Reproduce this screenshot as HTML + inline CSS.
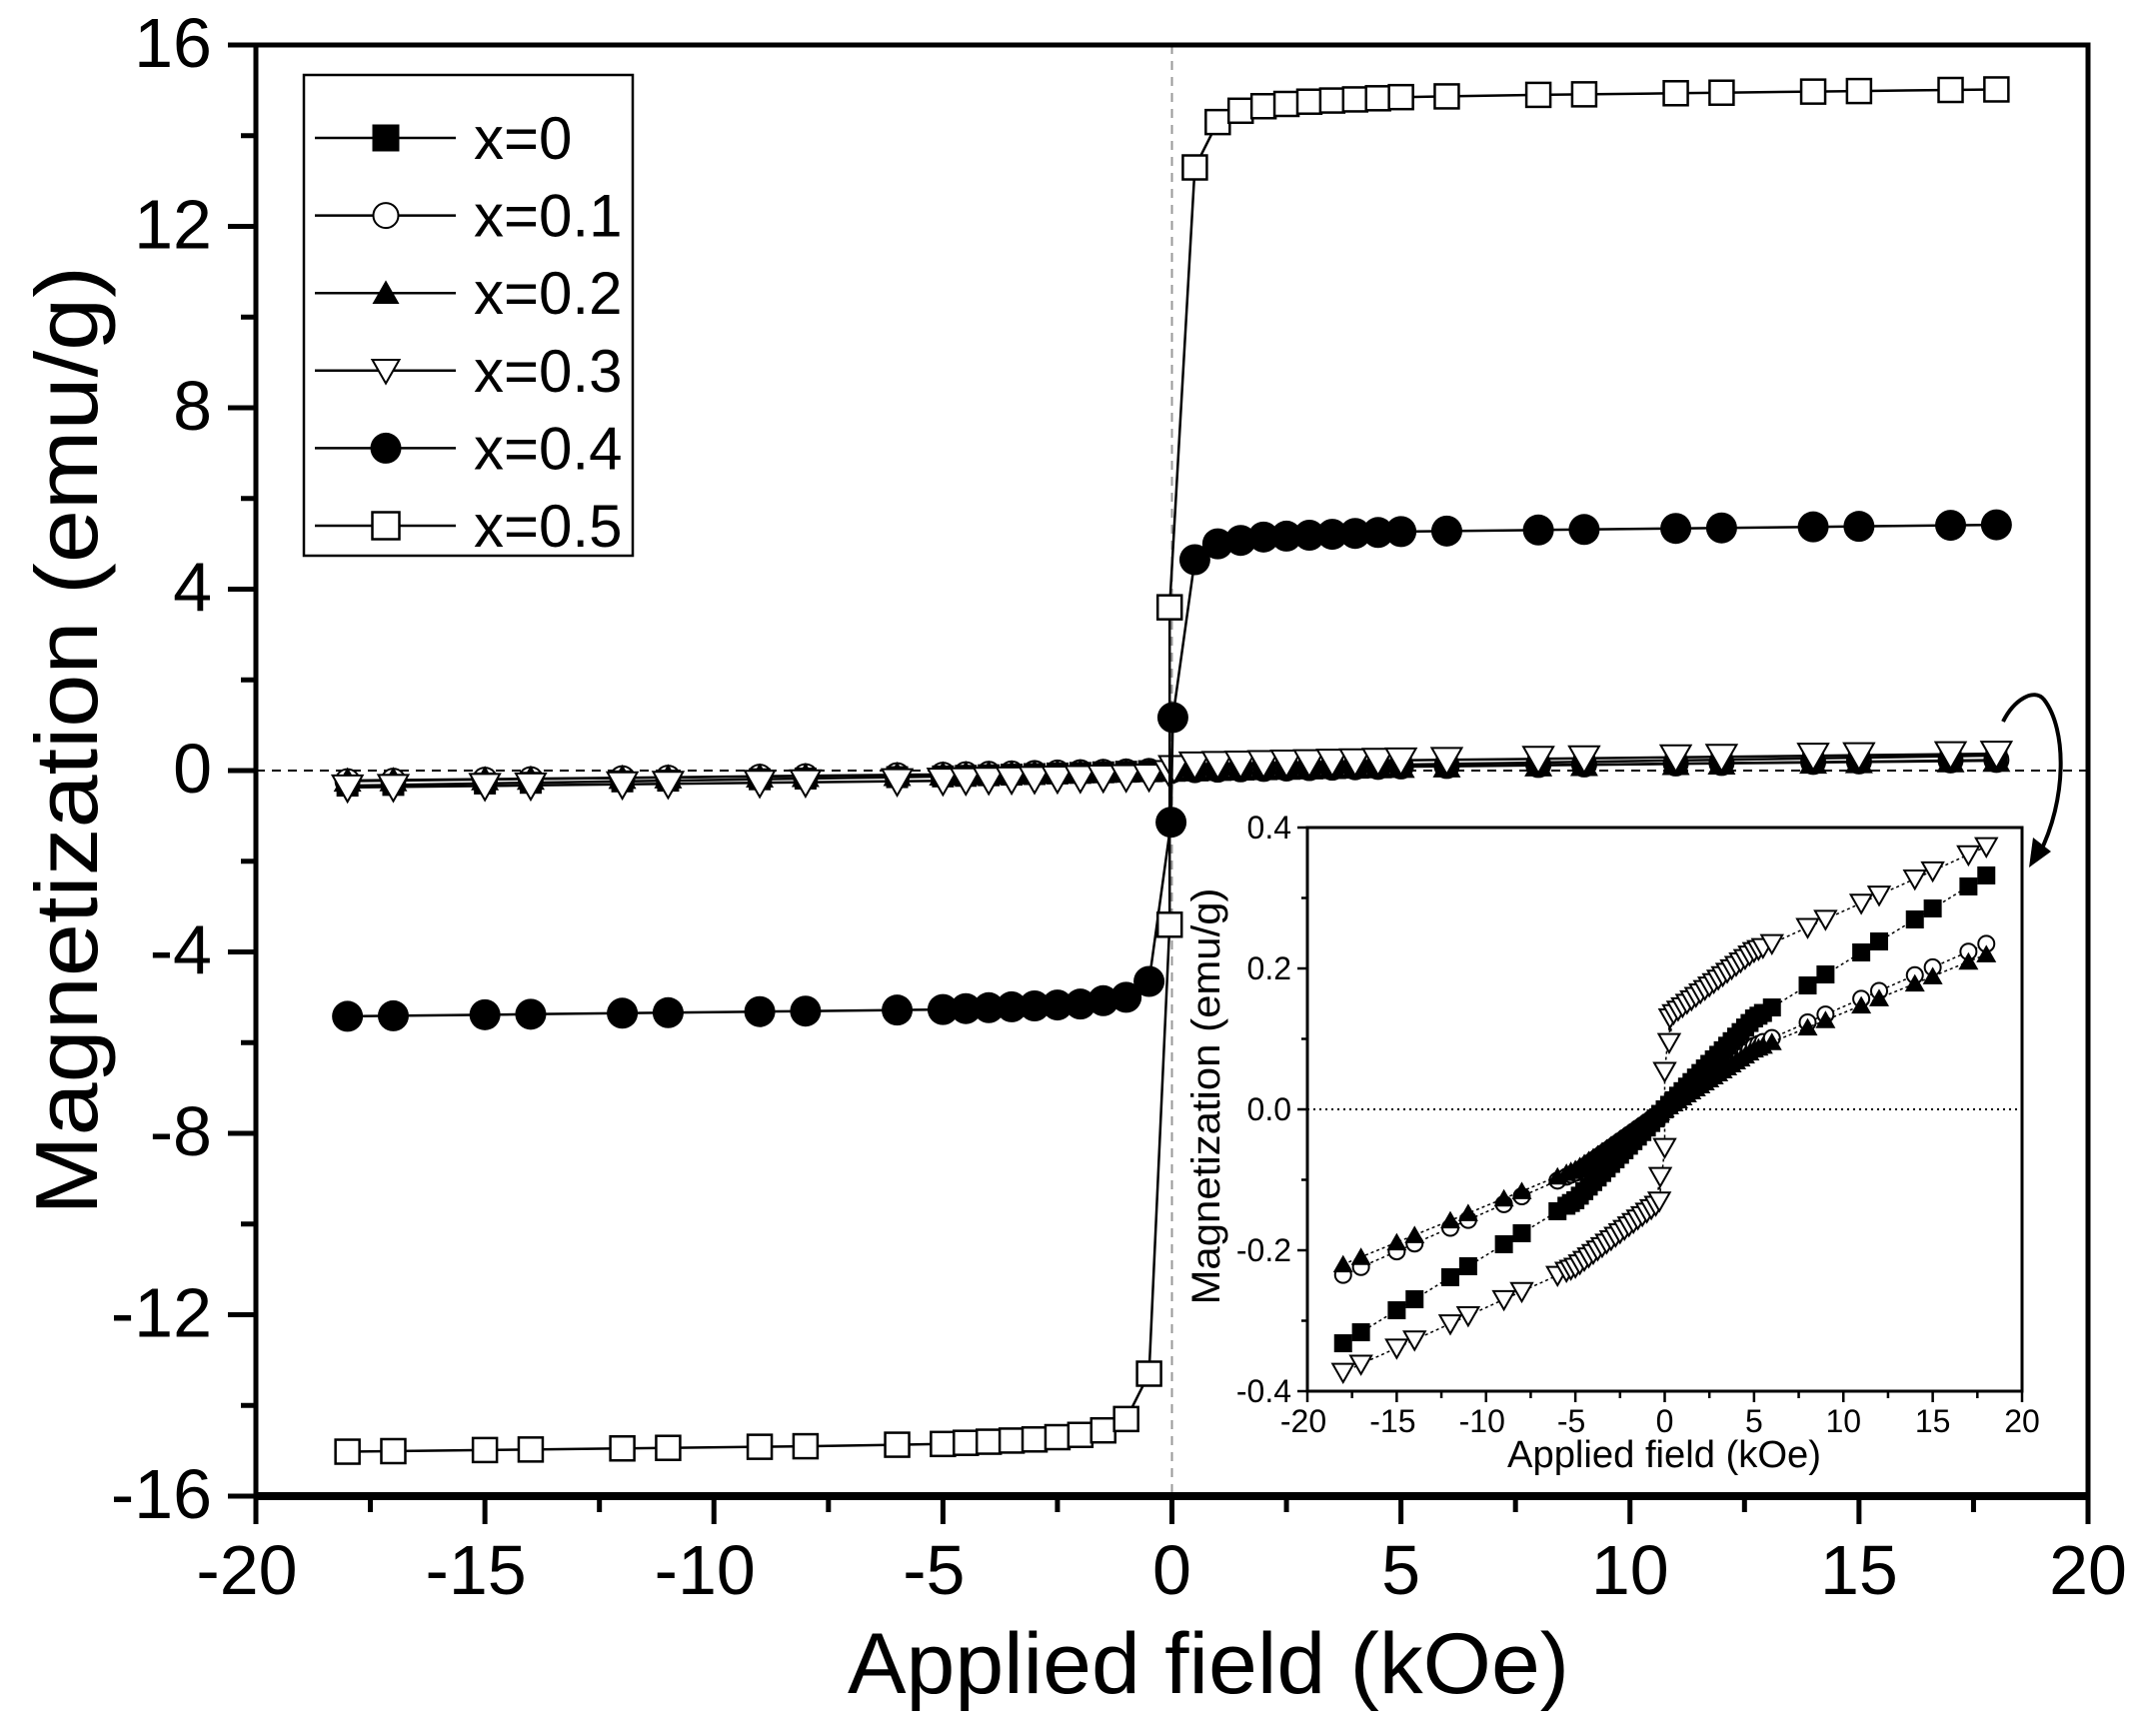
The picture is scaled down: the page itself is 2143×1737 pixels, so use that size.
<!DOCTYPE html>
<html><head><meta charset="utf-8"><style>
html,body{margin:0;padding:0;background:#fff}
svg{display:block}
text{font-family:"Liberation Sans",Arial,sans-serif;fill:#000}
</style></head><body>
<svg id="s" xmlns="http://www.w3.org/2000/svg" width="2143" height="1737" viewBox="0 0 2143 1737">
<rect width="2143" height="1737" fill="#fff"/>
<g id="g"></g>
</svg>
<script>
var NS="http://www.w3.org/2000/svg",G=document.getElementById('g');
function el(t,a,txt){var e=document.createElementNS(NS,t);for(var k in a)e.setAttribute(k,a[k]);if(txt!==undefined)e.textContent=txt;G.appendChild(e);return e;}
var X=function(h){return 1172.5+45.825*h},Y=function(m){return 771-45.375*m};
var XI=function(h){return 1665.5+17.875*h},YI=function(m){return 1110-705*m};
function interp(t,h){var s=h<0?-1:1,a=Math.abs(h);if(a<=t[0][0])return s*t[0][1]*a/t[0][0];for(var i=1;i<t.length;i++){if(a<=t[i][0]){var p=t[i-1],q=t[i];return s*(p[1]+(q[1]-p[1])*(a-p[0])/(q[0]-p[0]));}}return s*t[t.length-1][1];}
var neg=[-18,-17,-15,-14,-12,-11,-9,-8,-6,-5,-4.5,-4,-3.5,-3,-2.5,-2,-1.5,-1,-0.5];
var pos=neg.map(function(v){return -v}).reverse();
el('line',{x1:1172.5,y1:45,x2:1172.5,y2:1497,stroke:'#999','stroke-width':2,'stroke-dasharray':'9,7'});
el('line',{x1:256,y1:771,x2:2089,y2:771,stroke:'#000','stroke-width':2,'stroke-dasharray':'9,7'});
function marker(type,x,y,sz){
 var r=sz/2;
 if(type=='sqF')el('rect',{x:x-r,y:y-r,width:sz,height:sz,fill:'#000'});
 if(type=='sqO')el('rect',{x:x-r,y:y-r,width:sz,height:sz,fill:'#fff',stroke:'#000','stroke-width':2.5});
 if(type=='ciF')el('circle',{cx:x,cy:y,r:r,fill:'#000'});
 if(type=='ciO')el('circle',{cx:x,cy:y,r:r-1,fill:'#fff',stroke:'#000','stroke-width':2});
 if(type=='trU')el('polygon',{points:(x-r)+','+(y+r*0.8)+' '+(x+r)+','+(y+r*0.8)+' '+x+','+(y-r*0.95),fill:'#000'});
 if(type=='trD')el('polygon',{points:(x-r)+','+(y-r*0.8)+' '+(x+r)+','+(y-r*0.8)+' '+x+','+(y+r*0.95),fill:'#fff',stroke:'#000','stroke-width':2});
}
function series(pts,fx,fy,type,sz,lw,dash){
 var d=pts.map(function(p,i){return (i?'L':'M')+fx(p[0]).toFixed(1)+','+fy(p[1]).toFixed(1)}).join('');
 var a={d:d,fill:'none',stroke:'#000','stroke-width':lw};if(dash)a['stroke-dasharray']=dash;el('path',a);
 pts.forEach(function(p){marker(type,fx(p[0]),fy(p[1]),sz)});
}
var f0=[[5,0.129],[18,0.332]], f1=[[5,0.09],[18,0.235]], f2=[[5,0.085],[18,0.22]], f3=[[0.5,0.136],[5,0.224],[18,0.373]];
function f3v(h){var a=Math.abs(h),s=h<0?-1:1; if(a<0.5)return s*(0.054+(0.136-0.054)*a/0.5); return interp(f3,h);}
function mk(fn,list){return list.map(function(h){return [h,fn(h)]})}
var all=neg.concat([0]).concat(pos);
series(mk(function(h){return interp(f1,h)},all),X,Y,'ciO',26,2);
series(mk(function(h){return interp(f2,h)},all),X,Y,'trU',28,2.5);
series(mk(function(h){return interp(f0,h)},all),X,Y,'sqF',22,2.5);
series(neg.map(function(h){return [h,f3v(h)]}).concat([[-0.05,-0.054],[0.05,0.054]]).concat(pos.map(function(h){return [h,f3v(h)]})),X,Y,'trD',30,2.5);
var t4=[[0.5,4.65],[1,5.0],[2,5.15],[5,5.27],[18,5.42]];
series(neg.map(function(h){return [h,interp(t4,h)]}).concat([[-0.02,-1.14],[0.02,1.17]]).concat(pos.map(function(h){return [h,interp(t4,h)]})),X,Y,'ciF',31,2.5);
var t5=[[0.5,13.3],[1,14.3],[1.5,14.55],[2,14.65],[3,14.75],[5,14.85],[8,14.9],[18,15.02]];
series(neg.map(function(h){return [h,interp(t5,h)]}).concat([[-0.05,-3.4],[-0.05,3.6]]).concat(pos.map(function(h){return [h,interp(t5,h)]})),X,Y,'sqO',24,2.5);
el('rect',{x:256,y:45,width:1833,height:1452,fill:'none',stroke:'#000','stroke-width':5});
el('line',{x1:256,y1:1497,x2:2089,y2:1497,stroke:'#000','stroke-width':8});
for(var h=-20;h<=20;h+=2.5){var maj=(h%5==0);el('line',{x1:X(h),y1:1497,x2:X(h),y2:1497+(maj?28:16),stroke:'#000','stroke-width':5});
 if(maj)el('text',{x:X(h)-(h<0?9:0),y:1595,'font-size':70,'text-anchor':'middle'},String(h));}
for(var m=-16;m<=16;m+=2){var maj=(m%4==0);el('line',{x1:256,y1:Y(m),x2:256-(maj?28:15),y2:Y(m),stroke:'#000','stroke-width':5});
 if(maj)el('text',{x:212,y:Y(m)+22,'font-size':70,'text-anchor':'end'},String(m));}
el('text',{x:848,y:1694,'font-size':86,textLength:722,lengthAdjust:'spacingAndGlyphs'},'Applied field (kOe)');
el('text',{x:0,y:0,'font-size':88,textLength:950,lengthAdjust:'spacingAndGlyphs',transform:'translate(97,1216) rotate(-90)'},'Magnetization (emu/g)');
el('rect',{x:304,y:75,width:329,height:481,fill:'#fff',stroke:'#000','stroke-width':2.5});
var lg=[['sqF','x=0'],['ciO','x=0.1'],['trU','x=0.2'],['trD','x=0.3'],['ciF','x=0.4'],['sqO','x=0.5']];
lg.forEach(function(L,i){var y=138+i*77.6;el('line',{x1:315,y1:y,x2:456,y2:y,stroke:'#000','stroke-width':2.5});marker(L[0],386,y,L[0]=='ciF'?31:27);
 el('text',{x:474,y:y+21,'font-size':60},L[1]);});
el('rect',{x:1308,y:828,width:715,height:564,fill:'#fff'});
el('line',{x1:1308,y1:1110,x2:2023,y2:1110,stroke:'#000','stroke-width':2,'stroke-dasharray':'2,4'});
var ineg=[-18,-17,-15,-14,-12,-11,-9,-8,-6];for(var v=-5.5;v<-0.1;v+=0.25)ineg.push(+v.toFixed(2));
var ipos=ineg.map(function(v){return -v}).reverse();
var iall=ineg.concat([0]).concat(ipos);
series(mk(function(h){return interp(f1,h)},iall),XI,YI,'ciO',18,1.5,'3,3');
series(mk(function(h){return interp(f2,h)},iall),XI,YI,'trU',20,1.5,'3,3');
series(mk(function(h){return interp(f0,h)},iall),XI,YI,'sqF',18,1.5,'3,3');
series(ineg.map(function(h){return [h,f3v(h)]}).concat([[-0.3,-0.13],[0,-0.054],[0,0.054],[0.3,0.13]]).concat(ipos.map(function(h){return [h,f3v(h)]})),XI,YI,'trD',21,1.5,'3,3');
el('rect',{x:1308,y:828,width:715,height:564,fill:'none',stroke:'#000','stroke-width':3});
for(var h=-20;h<=20;h+=2.5){var maj=(h%5==0);el('line',{x1:XI(h),y1:1392,x2:XI(h),y2:1392+(maj?11:7),stroke:'#000','stroke-width':2.5});
 if(maj)el('text',{x:XI(h)-(h<0?4:0),y:1433,'font-size':32,'text-anchor':'middle'},String(h));}
for(var m=-0.4;m<=0.401;m+=0.1){var k=Math.round(m*10),maj=(k%2==0);el('line',{x1:1308,y1:YI(k/10),x2:1308-(maj?10:6),y2:YI(k/10),stroke:'#000','stroke-width':2.5});
 if(maj)el('text',{x:1292,y:YI(k/10)+11,'font-size':32,'text-anchor':'end'},(k/10).toFixed(1));}
el('text',{x:1665,y:1468,'font-size':38,'text-anchor':'middle',textLength:314,lengthAdjust:'spacingAndGlyphs'},'Applied field (kOe)');
el('text',{x:0,y:0,'font-size':40,'text-anchor':'middle',textLength:417,lengthAdjust:'spacingAndGlyphs',transform:'translate(1220,1097) rotate(-90)'},'Magnetization (emu/g)');
el('path',{d:'M2004,722 C2015,700 2035,688 2045,700 C2068,730 2068,800 2040,855',fill:'none',stroke:'#000','stroke-width':4});
el('polygon',{points:'2030,868 2034,838 2052,852',fill:'#000'});
</script>
</body></html>
